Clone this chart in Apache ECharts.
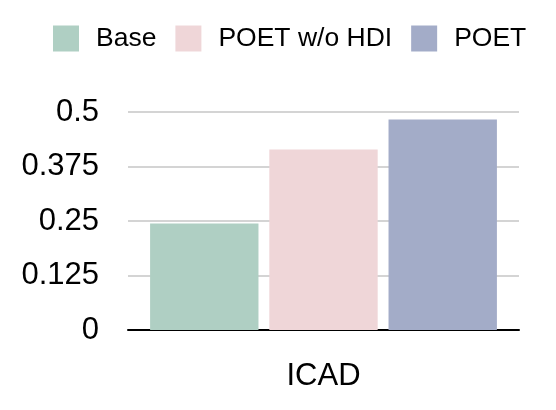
<!DOCTYPE html>
<html>
<head>
<meta charset="utf-8">
<script src="https://cdn.jsdelivr.net/npm/echarts@6/dist/echarts.min.js"></script>
<style>html,body{margin:0;padding:0;background:#fff;}#c{width:556px;height:410px;}</style>
</head>
<body>
<div id="c"></div>
<script>
const categories = ['ICAD'];
const seriesNames = ['Base', 'POET w/o HDI', 'POET'];
const baseValues = [0.244];
const poetNoHdiValues = [0.414];
const poetValues = [0.483];
const yTicks = [0, 0.125, 0.25, 0.375, 0.5];
const colors = ['#afcfc3', '#efd6d8', '#a3acc8'];

const chart = echarts.init(document.getElementById('c'), null, {renderer: 'canvas'});
const font = 'Liberation Sans, Arial, Helvetica, sans-serif';
const valuesList = [baseValues, poetNoHdiValues, poetValues];
chart.setOption({
  animation: false,
  backgroundColor: '#fff',
  legend: {
    data: seriesNames,
    left: 53, top: 25, padding: 0,
    itemWidth: 26, itemHeight: 26, itemGap: 19,
    icon: 'rect',
    textStyle: {fontFamily: font, fontSize: 26.5, color: '#000', padding: [0, 0, 0, 12]}
  },
  grid: {left: 128, right: 37, top: 112, bottom: 80},
  xAxis: {
    type: 'category', data: categories,
    axisLine: {lineStyle: {color: '#000', width: 2}},
    axisTick: {show: false},
    axisLabel: {fontFamily: font, fontSize: 31, color: '#000', margin: 31}
  },
  yAxis: {
    type: 'value', min: yTicks[0], max: yTicks[yTicks.length - 1], interval: 0.125,
    axisLine: {show: false}, axisTick: {show: false},
    axisLabel: {fontFamily: font, fontSize: 31, color: '#000', margin: 29},
    splitLine: {lineStyle: {color: '#c6c6c6', width: 1.5}}
  },
  series: seriesNames.map((n, i) => ({
    name: n, type: 'bar', data: valuesList[i],
    itemStyle: {color: colors[i]},
    barGap: '10%', barCategoryGap: '11.3%'
  }))
});
</script>
</body>
</html>
